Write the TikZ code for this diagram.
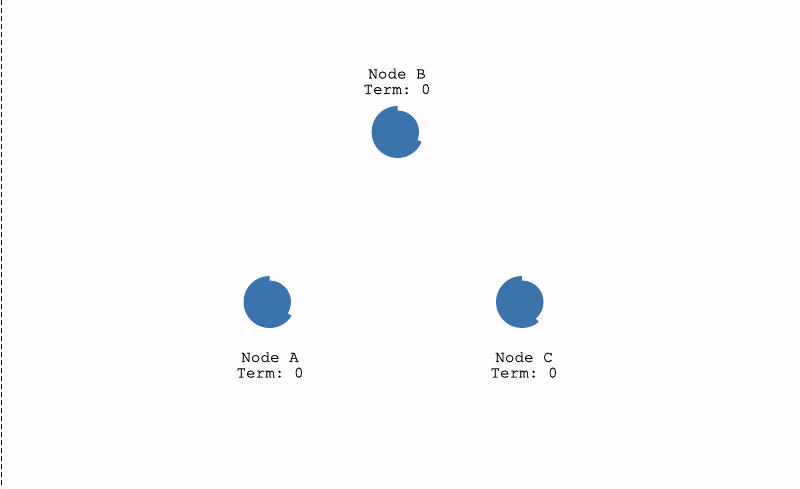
\documentclass[tikz,border=0pt]{standalone}
\usepackage{fontspec}
\setmonofont{texgyrecursor-regular.otf}[FakeBold=0.6]
\usepackage{tikz}

\definecolor{timerblue}{RGB}{59,116,172}
\definecolor{paper}{RGB}{254,252,254}

\begin{document}
\begin{tikzpicture}[x=1pt,y=1pt]
\tikzstyle{every node}+=[inner sep=0pt]
\tikzstyle{caption}=[font=\ttfamily\fontsize{16}{15.5}\selectfont, align=center]
\fill [paper] (0,0) rectangle (800,488);
\useasboundingbox (0,0) rectangle (800,488);
\draw [black, dash pattern=on 5pt off 3pt, line width=1.3pt] (1.2,488) -- (1.2,0);
% node B
\coordinate (B) at (397.5,356);
\fill [timerblue] (B) circle (21.5);
\fill [timerblue] (B) -- ++(90:26) arc (90:338:26) -- cycle;
\node [caption] (labB) at (397,406.5) {Node B\\Term: 0};
% node A
\coordinate (A) at (269.5,186);
\fill [timerblue] (A) circle (21.5);
\fill [timerblue] (A) -- ++(90:26) arc (90:328:26) -- cycle;
\node [caption] (labA) at (270,123) {Node A\\Term: 0};
% node C
\coordinate (C) at (522,186);
\fill [timerblue] (C) circle (21.5);
\fill [timerblue] (C) -- ++(90:26) arc (90:310:26) -- cycle;
\node [caption] (labC) at (524,123) {Node C\\Term: 0};
\end{tikzpicture}
\end{document}
